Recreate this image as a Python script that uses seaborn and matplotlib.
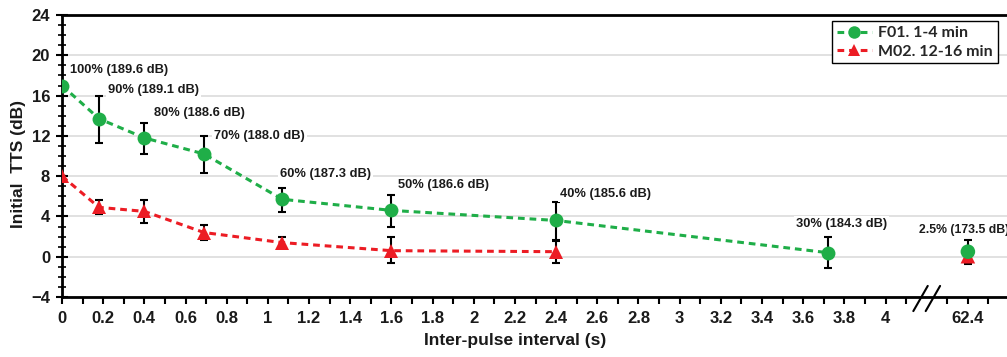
import numpy as np
import pandas as pd
import matplotlib
matplotlib.use("Agg")
import matplotlib.pyplot as plt
from matplotlib.lines import Line2D
import seaborn as sns

# Inter-pulse intervals (s) and initial TTS (dB) per subject
f01_interval = [0, 0.18, 0.40, 0.69, 1.07, 1.6, 2.4, 3.72, 62.4]
f01_tts = [17.0, 13.7, 11.8, 10.2, 5.7, 4.6, 3.6, 0.4, 0.5]
f01_low = [17.0, 11.25, 10.2, 8.3, 4.4, 3.0, 1.6, -1.1, -0.7]
f01_high = [17.0, 16.0, 13.3, 11.95, 6.8, 6.1, 5.4, 2.0, 1.7]

m02_interval = [0, 0.18, 0.40, 0.69, 1.07, 1.6, 2.4, 62.4]
m02_tts = [8.0, 4.9, 4.5, 2.4, 1.4, 0.6, 0.5, 0.05]
m02_low = [8.0, 4.2, 3.3, 1.7, 1.0, -0.6, -0.6, 0.05]
m02_high = [8.0, 5.6, 5.6, 3.1, 2.0, 2.0, 1.7, 0.05]

# Duty cycle and SPL labels for the F01 points
duty_pct = ["100", "90", "80", "70", "60", "50", "40", "30", "2.5"]
spl_db = [189.6, 189.1, 188.6, 188.0, 187.3, 186.6, 185.6, 184.3, 173.5]

series_names = ["F01. 1-4 min", "M02. 12-16 min"]
x_tick_values = [0, 0.2, 0.4, 0.6, 0.8, 1, 1.2, 1.4, 1.6, 1.8, 2, 2.2, 2.4, 2.6,
                 2.8, 3, 3.2, 3.4, 3.6, 3.8, 4, 62.4]

GREEN = "#1fae48"
RED = "#ec1c24"

BREAK_FROM = 4.2      # axis is broken after this interval
FAR_POS = 4.4         # where the long interval sits on the broken axis


def axis_pos(x):
    x = np.asarray(x, dtype=float)
    return np.where(x <= BREAK_FROM, x, FAR_POS + (x - 62.4) * 0.01)


sns.set_theme(style="white")
plt.rcParams["font.family"] = ["Liberation Sans", "DejaVu Sans"]
plt.rcParams["font.weight"] = "bold"

fig = plt.figure(figsize=(10.07, 3.57), dpi=100)
ax = fig.add_axes([62 / 1007, 60 / 357, 945 / 1007, 282 / 357])

df = pd.concat([
    pd.DataFrame({"pos": axis_pos(f01_interval), "tts": f01_tts,
                  "interval": f01_interval, "subject": series_names[0]}),
    pd.DataFrame({"pos": axis_pos(m02_interval), "tts": m02_tts,
                  "interval": m02_interval, "subject": series_names[1]}),
])
near = df[df["interval"] <= BREAK_FROM]
far = df[df["interval"] > BREAK_FROM]

palette = {series_names[0]: GREEN, series_names[1]: RED}
markers = {series_names[0]: "o", series_names[1]: "^"}

# error bars first so the markers sit on top
for xs, y, lo, hi in [(m02_interval, m02_tts, m02_low, m02_high),
                      (f01_interval, f01_tts, f01_low, f01_high)]:
    y = np.asarray(y)
    ax.errorbar(axis_pos(xs), y, yerr=[y - np.asarray(lo), np.asarray(hi) - y],
                fmt="none", ecolor="black", elinewidth=1.5, capsize=3.2,
                capthick=1.5, zorder=3)

sns.lineplot(data=near, x="pos", y="tts", hue="subject", style="subject",
             hue_order=series_names[::-1], style_order=series_names[::-1],
             palette=palette, markers=markers,
             dashes={series_names[0]: (2.2, 1.6), series_names[1]: (2.2, 1.6)},
             linewidth=2.2, markersize=10, markeredgewidth=0,
             ax=ax, zorder=4, legend=False)
sns.scatterplot(data=far.iloc[::-1], x="pos", y="tts", hue="subject",
                style="subject", palette=palette, markers=markers,
                s=110, linewidth=0, ax=ax, zorder=5, legend=False)

# duty-cycle annotations (offsets in pixels from each F01 point)
label_offsets = [(8, 15), (9, 29), (10, 25), (10, 18), (-2, 25),
                 (7, 25), (4, 26), (-32, 29), (-49, 22)]
for i, (pct, spl) in enumerate(zip(duty_pct, spl_db)):
    px = float(axis_pos([f01_interval[i]])[0])
    ax.annotate(f"{pct}% ({spl:.1f} dB)", xy=(px, f01_tts[i]),
                xytext=label_offsets[i], textcoords="offset pixels",
                ha="left", va="center", fontsize=9.3 if pct != "2.5" else 8.8,
                fontweight="bold", color="#1a1a1a", zorder=6,
                bbox=dict(boxstyle="square,pad=0.15", fc="white", ec="none"))

# axes limits, ticks and grid
ax.set_xlim(0, 4.59)
ax.set_ylim(-4, 24)
major_pos = axis_pos(x_tick_values)
ax.set_xticks(major_pos)
ax.set_xticklabels([f"{v:g}" for v in x_tick_values])
minor_pos = [round(0.1 + 0.2 * k, 1) for k in range(21)] + [4.3, 4.5]
minor_pos = [p for p in minor_pos if abs(p - BREAK_FROM) > 1e-6]
ax.set_xticks(minor_pos, minor=True)
ax.set_yticks(np.arange(-4, 25, 4))
ax.set_yticks(np.arange(-4, 25, 1), minor=True)

ax.tick_params(axis="x", which="both", direction="out", length=5, width=1.5,
               color="black", pad=5, labelsize=12)
ax.tick_params(axis="y", which="major", direction="inout", length=9, width=1.5,
               color="black", pad=4, labelsize=12)
ax.tick_params(axis="y", which="minor", direction="inout", length=6, width=1.2,
               color="black")
ax.tick_params(bottom=True, left=True, which="both")
for lab in ax.get_xticklabels() + ax.get_yticklabels():
    lab.set_fontweight("bold")
    lab.set_color("#1a1a1a")

ax.yaxis.grid(True, which="major", color="#d9d9d9", linewidth=1.1, zorder=0)
ax.xaxis.grid(False)
ax.set_axisbelow(True)

for side in ["left", "bottom", "top"]:
    ax.spines[side].set_visible(True)
    ax.spines[side].set_color("black")
    ax.spines[side].set_linewidth(2)
ax.spines["right"].set_visible(False)

# axis break marks
for dx in (-0.03, 0.03):
    ax.plot([BREAK_FROM + dx - 0.035, BREAK_FROM + dx + 0.035], [-5.4, -2.9],
            color="black", linewidth=1.5, clip_on=False, zorder=7)

ax.set_xlabel("Inter-pulse interval (s)", fontsize=12.5, fontweight="bold",
              color="#1a1a1a")
ax.set_ylabel("Initial  TTS (dB)", fontsize=12.5, fontweight="bold",
              color="#1a1a1a")
ax.xaxis.set_label_coords(0.48, -0.128)
ax.yaxis.set_label_coords(-0.038, 0.47)

# legend
handles = [Line2D([], [], color=GREEN, linestyle=(0, (2.2, 1.6)), linewidth=2.2,
                  marker="o", markersize=9, markeredgewidth=0),
           Line2D([], [], color=RED, linestyle=(0, (2.2, 1.6)), linewidth=2.2,
                  marker="^", markersize=9, markeredgewidth=0)]
leg = ax.legend(handles, series_names, loc="upper right",
                bbox_to_anchor=(0.99, 0.977), borderaxespad=0, frameon=True,
                fancybox=False, edgecolor="black", framealpha=1,
                handlelength=2.2, handletextpad=0.4, borderpad=0.3,
                labelspacing=0.25, prop={"family": "Lato", "weight": "bold",
                                         "size": 11.5})
leg.get_frame().set_linewidth(1)

fig.savefig("out.png", dpi=100)
